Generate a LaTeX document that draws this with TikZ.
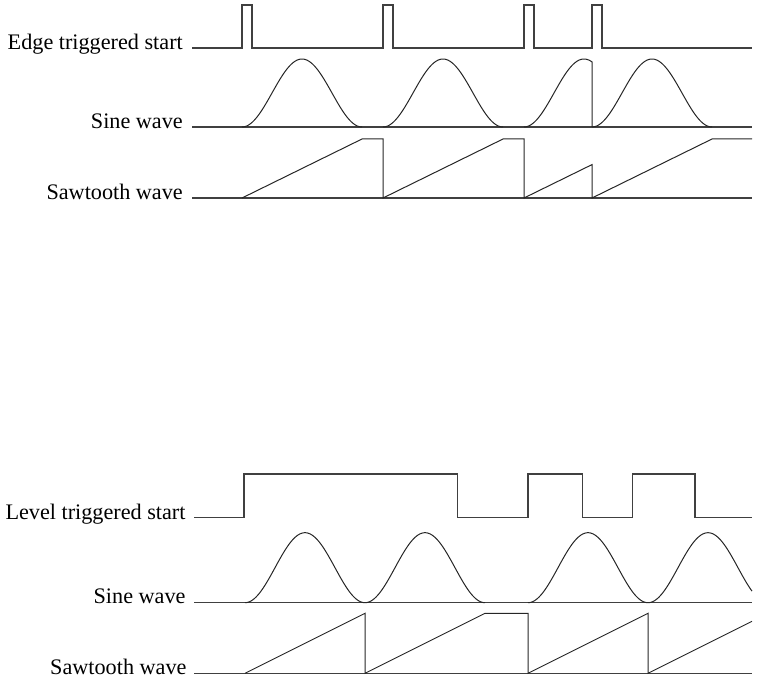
\documentclass[tikz,border=0pt]{standalone}
\usepackage{fontspec}
\setmainfont{Liberation Serif}
\begin{document}
\begin{tikzpicture}[x=1pt,y=-1pt,
  lbl/.style={anchor=base east, inner sep=0pt, font=\fontsize{22.2}{26}\selectfont},
  sig/.style={line width=1.3pt, draw=black!75, line join=miter},
  curve/.style={line width=1pt, draw=black!85}]
\useasboundingbox (0,0) rectangle (767,695);
% ---------- top panel ----------
\node[lbl] (edge) at (183,49.3) {Edge triggered start};
\node[lbl] (sine1) at (183,128.3) {Sine wave};
\node[lbl] (saw1) at (183,199.3) {Sawtooth wave};
\draw[sig] (192,48)--(242,48)--(242,5)--(252,5)--(252,48)--(383,48)--(383,5)--(393,5)--(393,48)
  --(524,48)--(524,5)--(534,5)--(534,48)--(592,48)--(592,5)--(602,5)--(602,48)--(752,48);
\draw[sig] (192,127)--(752,127);
\foreach \s in {242,383,592}
  \draw[curve] plot[domain=0:120, samples=80, smooth] ({\s+\x},{127-34*(1-cos(3*\x))});
\draw[curve] plot[domain=0:68, samples=50, smooth] ({524+\x},{127-34*(1-cos(3*\x))}) -- (592,127);
\draw[sig] (192,198)--(752,198);
\draw[curve] (242,198)--(362,139)--(383,139)--(383,198)--(503,139)--(524,139)--(524,198)
  --(592,164.6)--(592,198)--(712,139)--(752,139);
% ---------- bottom panel ----------
\node[lbl] (level) at (185.7,519.3) {Level triggered start};
\node[lbl] (sine2) at (185.7,603.7) {Sine wave};
\node[lbl] (saw2) at (186.7,674.3) {Sawtooth wave};
\draw[sig] (194,517.7)--(244,517.7)--(244,474)--(457.7,474)--(457.7,517.7)--(528,517.7)--(528,474)
  --(582.7,474)--(582.7,517.7)--(632.3,517.7)--(632.3,474)--(695,474)--(695,517.7)--(752,517.7);
\draw[sig] (194,602.7)--(752,602.7);
\foreach \s in {245,365,528}
  \draw[curve] plot[domain=0:120, samples=80, smooth] ({\s+\x},{602.7-35*(1-cos(3*\x))});
\draw[curve] plot[domain=0:104, samples=70, smooth] ({648+\x},{602.7-35*(1-cos(3*\x))});
\draw[sig] (194,673.3)--(752,673.3);
\draw[curve] (245,673.3)--(365,613.3)--(365,673.3)--(485,613.3)--(528,613.3)--(528,673.3)
  --(648,613.3)--(648,673.3)--(752,621.3);
\end{tikzpicture}
\end{document}
